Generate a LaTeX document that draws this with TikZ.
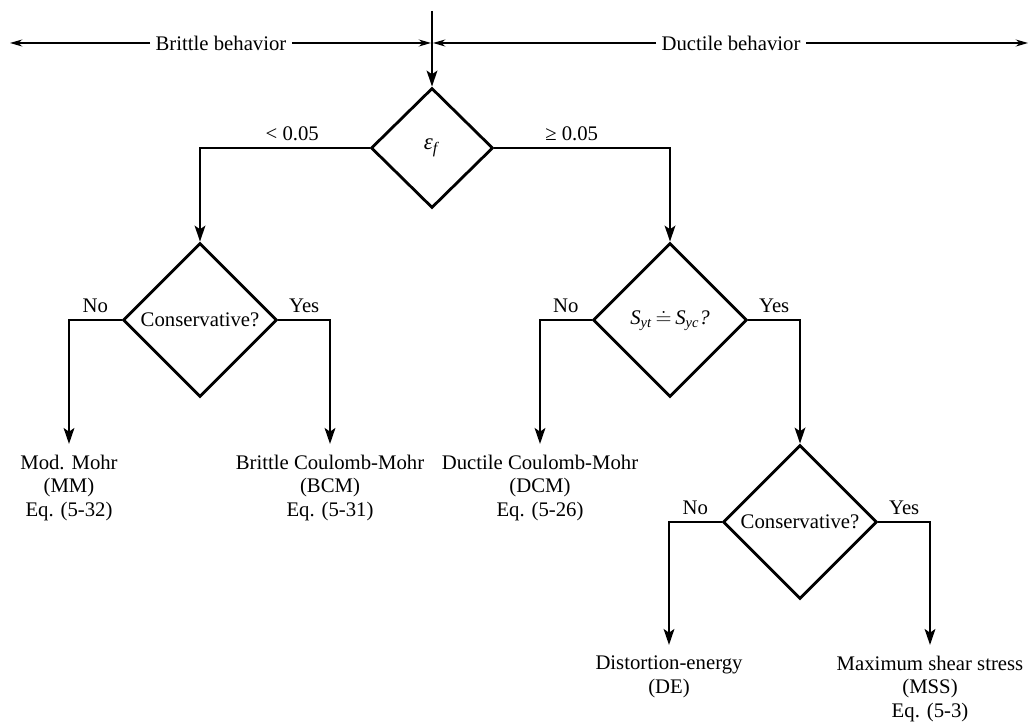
\documentclass[tikz,border=0pt]{standalone}
\usepackage{fontspec}
\setmainfont{Liberation Serif}
\usetikzlibrary{shapes.geometric,arrows.meta}
\begin{document}
\begin{tikzpicture}[x=0.02cm, y=-0.02cm,
        font=\fontsize{11.8}{13.4}\selectfont,
        decision/.style={draw, diamond, line width=1.6pt, inner sep=0pt,
            minimum width=3.08cm, minimum height=3.08cm},
        result/.style={align=center, anchor=north, inner xsep=1pt, inner ysep=6pt},
        flow/.style={line width=1.6pt, -{Stealth[length=9pt, width=6pt, inset=2pt]}},
        spanline/.style={line width=0.7pt, -{Stealth[length=7pt, width=4pt]}}]
    \useasboundingbox (0,0) rectangle (1030,722);

    % Rango de comportamiento
    \coordinate (start) at (432,11);
    \coordinate (leftend) at (10,43);
    \coordinate (rightend) at (1028,43);
    \coordinate (splitl) at (431,43);
    \coordinate (splitr) at (433,43);
    \node[inner sep=3pt] (brittle) at (221,43) {Brittle behavior};
    \node[inner sep=3pt] (ductile) at (731,43) {Ductile behavior};
    \draw[spanline] (brittle.west) -- (leftend);
    \draw[spanline] (brittle.east) -- (splitl);
    \draw[spanline] (ductile.west) -- (splitr);
    \draw[spanline] (ductile.east) -- (rightend);

    % Decisiones
    \node[decision, minimum width=2.44cm, minimum height=2.4cm] (ef) at (432,148)
        {\fontsize{13}{15}\selectfont\textit{ε}\textsubscript{\textit{f}}};
    \node[decision] (consb) at (200,320) {Conservative?};
    \node[decision] (syield) at (670,320)
        {\textit{S}\textsubscript{\textit{yt}}\,$\doteq$\,\textit{S}\textsubscript{\textit{yc}}\textit{?}};
    \node[decision] (consd) at (800,522) {Conservative?};

    % Resultados
    \node[result] (mm) at (69,444) {Mod. Mohr\\(MM)\\Eq. (5-32)};
    \node[result] (bcm) at (330,444) {Brittle Coulomb-Mohr\\(BCM)\\Eq. (5-31)};
    \node[result] (dcm) at (540,444) {Ductile Coulomb-Mohr\\(DCM)\\Eq. (5-26)};
    \node[result] (de) at (669,645) {Distortion-energy\\(DE)};
    \node[result] (mss) at (930,645) {Maximum shear stress\\(MSS)\\Eq. (5-3)};

    % Conectores
    \draw[flow] (start) -- (ef.north);
    \draw[flow] (ef.west) -| node[pos=0.228, above] {< 0.05} (consb.north);
    \draw[flow] (ef.east) -| node[pos=0.22, above] {≥ 0.05} (syield.north);
    \draw[flow] (consb.west) -| node[pos=0.25, above] {No} (mm.north);
    \draw[flow] (consb.east) -| node[pos=0.25, above] {Yes} (bcm.north);
    \draw[flow] (syield.west) -| node[pos=0.25, above] {No} (dcm.north);
    \draw[flow] (syield.east) -| node[pos=0.25, above] {Yes} (consd.north);
    \draw[flow] (consd.west) -| node[pos=0.25, above] {No} (de.north);
    \draw[flow] (consd.east) -| node[pos=0.25, above] {Yes} (mss.north);
\end{tikzpicture}
\end{document}
